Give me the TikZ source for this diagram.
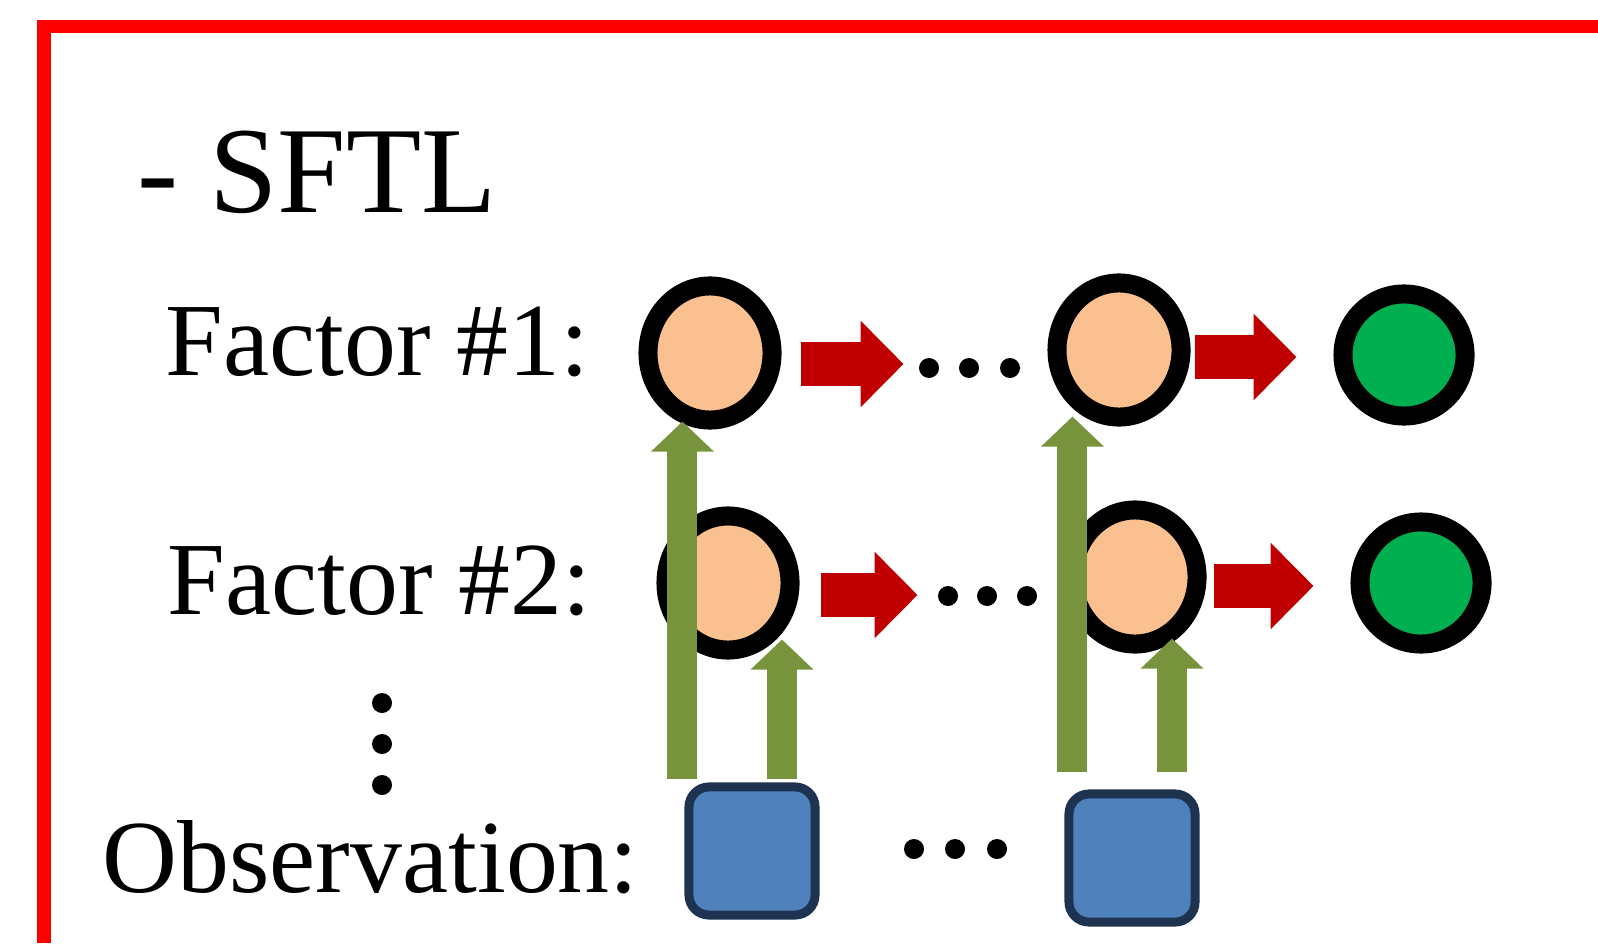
\documentclass[tikz,border=0pt]{standalone}
\usepackage{fontspec}
\setmainfont{Liberation Serif}
\usetikzlibrary{shapes.geometric, arrows.meta, calc}

\definecolor{peach}{HTML}{FAC090}
\definecolor{goalgreen}{HTML}{00B050}
\definecolor{arrowred}{HTML}{C00000}
\definecolor{olive}{HTML}{77933C}
\definecolor{obsblue}{HTML}{4F81BD}
\definecolor{obsborder}{HTML}{1D3350}

\begin{document}
\begin{tikzpicture}[
			x=0.01cm, y=-0.01cm,
			factor/.style={ellipse, draw=black, line width=0.19cm, fill=peach, minimum width=1.24cm, minimum height=1.34cm, inner sep=0},
			goal/.style={circle, draw=black, line width=0.19cm, fill=goalgreen, minimum size=1.22cm, inner sep=0},
			obs/.style={draw=obsborder, line width=0.09cm, fill=obsblue, rounded corners=0.2cm, minimum width=1.26cm, minimum height=1.28cm, inner sep=0},
			lbl/.style={font=\fontsize{29.5}{32}\selectfont, anchor=base west, inner sep=0},
			trans/.style={arrowred, line width=0.44cm, -{Triangle[length=0.43cm, width=0.84cm]}},
			emit/.style={olive, line width=0.3cm, -{Triangle[length=0.3cm, width=0.61cm]}}]
	
		\useasboundingbox (0,0) rectangle (1598,943);
		\draw[red, line width=0.13cm] (44,943) -- (44,27) -- (1598,27);
	
		\node[lbl, font=\fontsize{35}{38}\selectfont](title) at (137,213) {- SFTL};
		\node[lbl](lab1) at (165,375) {Factor \#1:};
		\node[lbl](lab2) at (167,614) {Factor \#2:};
		\node[lbl](labobs) at (102,892) {Observation:};
	
		\node[factor](f11) at (710,353) {};
		\node[factor](f12) at (1119,350) {};
		\node[goal](g1) at (1404,355) {};
		\node[factor](f21) at (728,583) {};
		\node[factor](f22) at (1135,577) {};
		\node[goal](g2) at (1421,583) {};
	
		\node[obs](sq1) at (752,851) {};
		\node[obs](sq2) at (1132,858) {};
	
		\foreach \x in {929,969,1010} \fill (\x,368) circle (10);
		\foreach \x in {948,987,1027} \fill (\x,596) circle (10);
		\foreach \x in {914,955,997} \fill (\x,849) circle (10);
		\foreach \y in {703,744,785} \fill (382,\y) circle (10);
	
		\draw[trans] ($(f11.east)+(19,11)$) -- +(103,0);
		\draw[trans] ($(f12.east)+(4,7)$) -- +(102,0);
		\draw[trans] ($(f21.east)+(21,12)$) -- +(97,0);
		\draw[trans] ($(f22.east)+(7,9)$) -- +(100,0);
	
		\coordinate (e11) at ($(sq1.north west)+(-2,-3)$);
		\coordinate (e21) at ($(sq1.north)+(30,-3)$);
		\coordinate (e12) at ($(sq2.north west)+(8,-17)$);
		\coordinate (e22) at ($(sq2.north)+(40,-17)$);
		\draw[emit, shorten >=-0.08cm] (e11) -- (e11 |- f11.south);
		\draw[emit, shorten >=-0.2cm] (e21) -- (e21 |- f21.south);
		\draw[emit, shorten >=-0.1cm] (e12) -- (e12 |- f12.south);
		\draw[emit, shorten >=-0.15cm] (e22) -- (e22 |- f22.south);
	\end{tikzpicture}
\end{document}
